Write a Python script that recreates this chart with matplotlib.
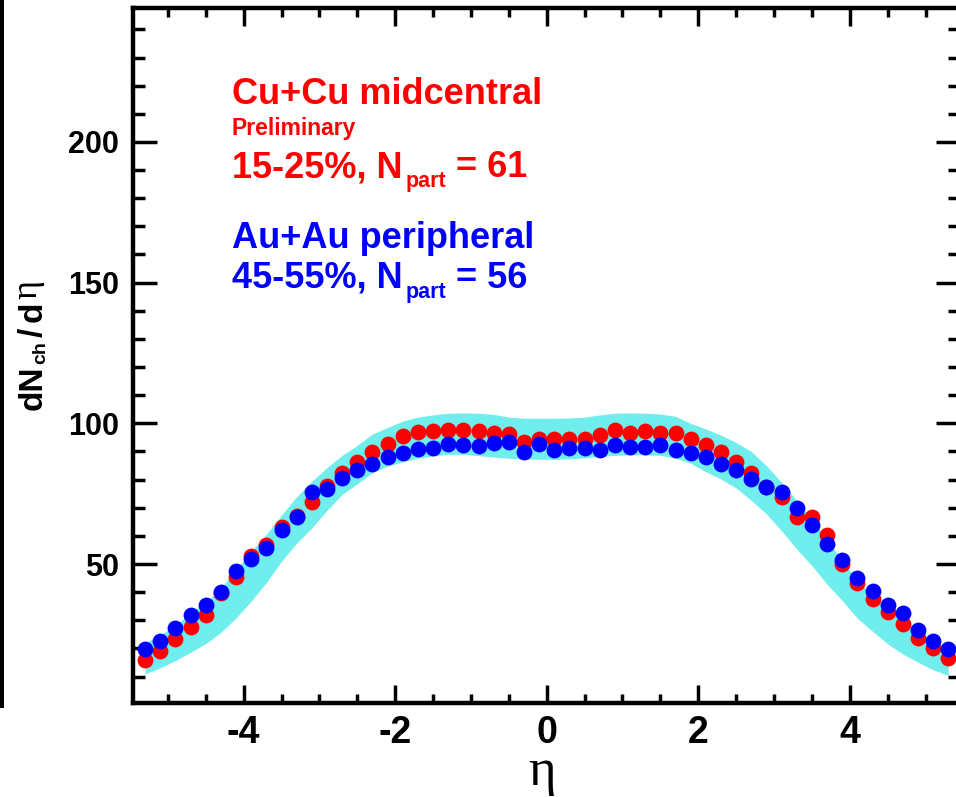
import matplotlib
matplotlib.use("Agg")
import matplotlib.pyplot as plt
from matplotlib.ticker import MultipleLocator
from matplotlib.patches import Rectangle

# Pseudorapidity bin centres
eta = [-5.3, -5.1, -4.9, -4.7, -4.5, -4.3, -4.1, -3.9, -3.7, -3.5, -3.3, -3.1,
       -2.9, -2.7, -2.5, -2.3, -2.1, -1.9, -1.7, -1.5, -1.3, -1.1, -0.9, -0.7,
       -0.5, -0.3, -0.1, 0.1, 0.3, 0.5, 0.7, 0.9, 1.1, 1.3, 1.5, 1.7, 1.9, 2.1,
       2.3, 2.5, 2.7, 2.9, 3.1, 3.3, 3.5, 3.7, 3.9, 4.1, 4.3, 4.5, 4.7, 4.9,
       5.1, 5.3]

# Cu+Cu 15-25% dNch/deta
cucu = [16.0, 19.1, 23.4, 27.5, 31.7, 39.6, 45.4, 52.9, 56.6, 63.1, 66.9, 71.9,
        77.7, 82.5, 86.4, 89.9, 92.5, 95.5, 96.8, 97.4, 97.7, 97.7, 97.1, 96.5,
        96.2, 93.5, 94.4, 94.3, 94.3, 94.3, 95.9, 97.7, 96.5, 97.4, 96.7, 96.5,
        94.3, 92.2, 89.8, 86.4, 82.3, 77.5, 73.9, 66.7, 66.7, 60.3, 50.0, 43.4,
        37.5, 32.8, 28.6, 23.6, 20.0, 16.5]

# Au+Au 45-55% dNch/deta
auau = [19.9, 22.6, 27.2, 31.7, 35.3, 39.9, 47.4, 51.9, 55.6, 62.1, 66.8, 75.7,
        76.5, 80.4, 83.3, 85.6, 88.0, 89.4, 90.8, 91.1, 92.7, 92.3, 92.1, 92.9,
        93.2, 89.9, 92.6, 90.5, 91.1, 91.1, 90.5, 92.3, 91.7, 91.7, 92.3, 90.5,
        89.6, 88.0, 85.5, 83.3, 80.1, 77.4, 75.7, 69.8, 63.9, 57.2, 51.5, 44.9,
        40.5, 35.4, 32.5, 26.4, 22.7, 19.7]

# Systematic band edges
band_hi = [22.0, 24.8, 28.3, 32.5, 36.3, 41.5, 48.0, 54.5, 60.6, 67.4, 73.9, 79.4,
           84.3, 88.6, 92.2, 96.2, 98.5, 100.8, 102.2, 103.0, 103.6, 103.7, 103.6,
           103.2, 102.2, 101.8, 101.8, 101.8, 101.9, 102.2, 103.0, 103.6, 103.7,
           103.6, 103.3, 102.5, 100.0, 98.0, 95.8, 93.2, 90.0, 84.9, 79.0, 72.5,
           66.0, 58.6, 51.2, 44.0, 38.8, 34.2, 30.0, 26.3, 22.9, 20.2]
band_lo = [11.0, 13.1, 15.7, 18.6, 21.7, 25.7, 30.8, 36.8, 43.4, 51.0, 57.4, 62.8,
           69.1, 74.7, 78.5, 82.5, 84.8, 86.3, 87.6, 88.4, 89.0, 89.0, 88.5, 88.0,
           87.6, 87.3, 87.2, 87.2, 87.4, 87.7, 88.3, 88.6, 88.8, 88.8, 88.6, 87.6,
           85.8, 82.8, 80.2, 77.0, 72.6, 67.8, 61.8, 55.3, 49.4, 42.8, 37.0, 30.7,
           26.1, 21.6, 18.0, 15.1, 12.4, 10.4]

W, H = 956, 797
RED, BLUE, CYAN = "#FF0000", "#0000FF", "#70EEEE"
SANS = ["Liberation Sans", "DejaVu Sans"]
SERIF = ["Liberation Serif", "DejaVu Serif"]

plt.rcParams["font.family"] = SANS
plt.rcParams["font.weight"] = "bold"
plt.rcParams["axes.unicode_minus"] = False

fig = plt.figure(figsize=(W / 100, H / 100), dpi=100)
ax = fig.add_axes([133 / W, 1 - 703 / H, (960.4 - 133) / W, (703 - 8.3) / H])

ax.fill_between(eta, band_lo, band_hi, color=CYAN, linewidth=0, zorder=1)
ax.plot(eta, cucu, "o", color=RED, ms=11.4, mew=0, zorder=3)
ax.plot(eta, auau, "o", color=BLUE, ms=11.4, mew=0, zorder=4)

ax.set_xlim(-5.46, 5.46)
ax.set_ylim(0.6, 247.5)
ax.xaxis.set_major_locator(MultipleLocator(2))
ax.xaxis.set_minor_locator(MultipleLocator(0.5))
ax.yaxis.set_major_locator(MultipleLocator(50))
ax.yaxis.set_minor_locator(MultipleLocator(10))

for sp in ax.spines.values():
    sp.set_linewidth(3.2)
ax.tick_params(axis="both", which="both", direction="in", top=True, right=True,
               width=2.5, colors="black")
ax.tick_params(axis="y", which="major", length=17.3, pad=10, labelsize=22)
ax.tick_params(axis="y", which="minor", length=8.6)
ax.tick_params(axis="x", which="major", length=13.2, pad=8.5, labelsize=27)
ax.tick_params(axis="x", which="minor", length=6.7)
for lab in ax.get_xticklabels() + ax.get_yticklabels():
    lab.set_fontweight("bold")

renderer = fig.canvas.get_renderer()


def run_h(x, y, pieces, color):
    """Lay out text pieces left to right; y is the baseline in image pixels."""
    for s, size, drop, gap in pieces:
        t = fig.text((x + gap) / W, 1 - (y + drop) / H, s, color=color,
                     fontsize=size, fontweight="bold", family=SANS,
                     ha="left", va="baseline")
        x = t.get_window_extent(renderer).x1


def run_v(xb, y0, pieces):
    """Lay out rotated text pieces bottom to top; xb is the baseline column."""
    y = H - y0
    for s, size, shift, fam, wt, gap in pieces:
        t = fig.text((xb + shift) / W, (y + gap) / H, s, rotation=90,
                     rotation_mode="anchor", ha="left", va="baseline",
                     fontsize=size, family=fam, fontweight=wt, color="black")
        y = t.get_window_extent(renderer).y1


run_h(231.7, 104, [("Cu+Cu midcentral", 26, 0, 0)], RED)
run_h(231.7, 135, [("Preliminary", 16.5, 0, 0)], RED)
run_h(231.7, 177.3, [("15-25%, N", 26, 0, 0), ("part", 15.5, 10, 3),
                     (" = 61", 26, 0, 0)], RED)
run_h(231.7, 248.3, [("Au+Au peripheral", 26, 0, 0)], BLUE)
run_h(231.7, 287.7, [("45-55%, N", 26, 0, 0), ("part", 15.5, 10, 3),
                     (" = 56", 26, 0, 0)], BLUE)

run_v(42, 410, [("dN", 24, 0, SANS, "bold", 0),
                ("ch", 14, 3, SANS, "bold", 1),
                ("/", 24, 0, SANS, "bold", 5),
                ("d", 24, 0, SANS, "bold", 5),
                ("η", 26, -6, SERIF, "normal", 3)])

fig.text(542 / W, 1 - 784.5 / H, "η", fontsize=38, family=SERIF,
         fontweight="normal", ha="center", va="baseline")

# thin dark rule along the left edge
fig.add_artist(Rectangle((0, 1 - 708 / H), 3.5 / W, 708 / H,
                         transform=fig.transFigure, color="black", lw=0))

fig.savefig("out.png", dpi=100)
